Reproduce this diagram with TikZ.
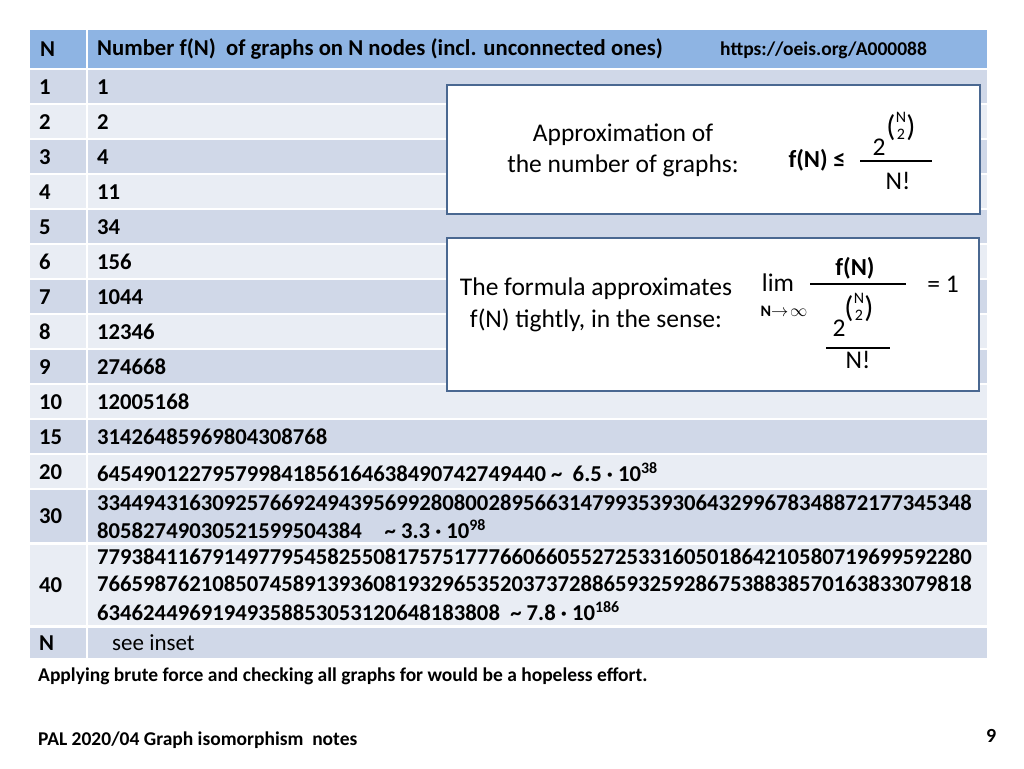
\documentclass[tikz,border=0pt]{standalone}
\usepackage{fontspec}
\setmainfont{Carlito}
\begin{document}
\begin{tikzpicture}[x=1pt,y=-1pt,
  dk/.style={fill=rowdark,draw=none},
  lt/.style={fill=rowlight,draw=none},
  tx/.style={anchor=west,inner sep=0pt,font=\fontsize{22.7}{26}\selectfont\bfseries},
  nt/.style={inner sep=0pt,font=\fontsize{25.5}{28}\selectfont},
  sm/.style={inner sep=0pt,font=\fontsize{16}{16}\selectfont},
  par/.style={inner sep=0pt,font=\fontsize{30}{30}\selectfont},
  inset/.style={draw=boxblue,line width=2pt,fill=white},
  fracline/.style={line width=1.6pt}]
\definecolor{rowdark}{HTML}{D0D8E8}
\definecolor{rowlight}{HTML}{E9EDF4}
\definecolor{hdr}{HTML}{8EB4E3}
\definecolor{boxblue}{HTML}{4A6891}
\useasboundingbox[fill=white] (0,0) rectangle (1024,768);
% header
\fill[hdr] (30,30) rectangle (86,68);
\fill[hdr] (88,30) rectangle (987,68);
\foreach \t/\b/\s in {70/104/dk,105/139/lt,140/174/dk,175/209/lt,210/244/dk,245/279/lt,280/314/dk,315/349/lt,350/384/dk,385/419/lt,420/454/dk,455/489/lt,490/543/dk,545/626/lt,628/659/dk}{
  \path[\s] (30,\t) rectangle (86,\b-1);
  \path[\s] (88,\t) rectangle (987,\b-1);
}
\node[tx] (hN) at (40,49) {N};
\node[tx] (hT) at (97,49) {Number f(N)\ \ of graphs on N nodes (incl. unconnected ones)};
\node[tx,font=\fontsize{19.5}{22}\selectfont\bfseries] (hU) at (720,50) {https://oeis.org/A000088};
\foreach \n/\v/\y in {1/1/87,2/2/122,3/4/157,4/11/192,5/34/227,6/156/262,7/1044/297,8/12346/332,9/274668/367,10/12005168/402,15/31426485969804308768/437}{
  \node[tx] (n\n) at (39,\y) {\n};
  \node[tx] (v\n) at (97,\y) {\v};
}
\node[tx] (n20) at (39,472) {20};
\node[tx] (v20) at (97,472) {645490122795799841856164638490742749440\ \textasciitilde\ \ 6.5 · 10\textsuperscript{38}};
\node[tx] (n30) at (39,516) {30};
\node[tx] (v30a) at (97,503) {3344943163092576692494395699280800289566314799353930643299678348872177345348};
\node[tx] (v30b) at (97,529) {80582749030521599504384\quad\textasciitilde\ 3.3 · 10\textsuperscript{98}};
\node[tx] (n40) at (39,585) {40};
\node[tx] (v40a) at (97,557) {7793841167914977954582550817575177766066055272533160501864210580719699592280};
\node[tx] (v40b) at (97,584) {7665987621085074589139360819329653520373728865932592867538838570163833079818};
\node[tx] (v40c) at (97,611) {63462449691949358853053120648183808\ \ \textasciitilde\ 7.8 · 10\textsuperscript{186}};
\node[tx] (nN) at (39,643) {N};
\node[tx,font=\fontsize{23}{26}\selectfont] (vN) at (112,643) {see inset};
\node[tx,font=\fontsize{19.5}{22}\selectfont\bfseries] (apply) at (38,676) {Applying brute force and checking all graphs for would be a hopeless effort.};
\node[tx,font=\fontsize{19.5}{22}\selectfont\bfseries] (foot) at (38,740) {PAL 2020/04 Graph isomorphism\ \ notes};
\node[tx,font=\fontsize{20}{22}\selectfont\bfseries] (page) at (986,736) {9};
% inset 1
\draw[inset] (447,85) rectangle (980,214);
\node[nt] (a1) at (623,135) {Approximation of};
\node[nt] (a2) at (623,166) {the number of graphs:};
\node[nt,font=\fontsize{24.5}{28}\selectfont\bfseries] (fle) at (817,160) {f(N) ≤};
\node[nt] (two1) at (879,147) {2};
\node[par] (p1l) at (891,128) {(};
\node[sm] (bN1) at (901,117) {N};
\node[sm] (b21) at (901,134) {2};
\node[par] (p1r) at (911,128) {)};
\coordinate (l1a) at (860,161); \coordinate (l1b) at (932,161);
\draw[fracline] (l1a) -- (l1b);
\node[nt] (nf1) at (898,181) {N!};
% inset 2
\draw[inset] (447,238) rectangle (979,391);
\node[nt] (t1) at (596,289) {The formula approximates};
\node[nt] (t2) at (596,320) {f(N) tightly, in the sense:};
\node[nt] (lim) at (778,283) {lim};
\node[nt,font=\fontsize{16}{16}\selectfont\bfseries] (ninf) at (784,311) {N$\rightarrow\!\infty$};
\node[nt,font=\fontsize{24.5}{28}\selectfont\bfseries] (fN) at (855,268) {f(N)};
\coordinate (l2a) at (810,284); \coordinate (l2b) at (906,284);
\draw[fracline] (l2a) -- (l2b);
\node[nt] (eq) at (943,284) {= 1};
\node[nt] (two2) at (839,328) {2};
\node[par] (p2l) at (849,309) {(};
\node[sm] (bN2) at (859,298) {N};
\node[sm] (b22) at (859,315) {2};
\node[par] (p2r) at (869,309) {)};
\coordinate (l3a) at (826,348); \coordinate (l3b) at (890,348);
\draw[fracline] (l3a) -- (l3b);
\node[nt] (nf2) at (858,360) {N!};
\end{tikzpicture}
\end{document}
